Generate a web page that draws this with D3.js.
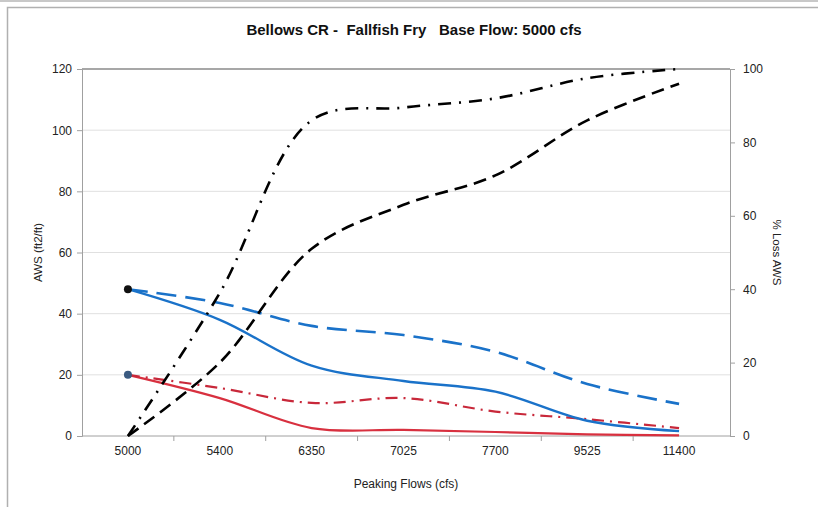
<!DOCTYPE html>
<html><head><meta charset="utf-8">
<script src="https://cdn.jsdelivr.net/npm/d3@7"></script>
<style>body{margin:0;background:#fff;} svg{display:block;font-family:"Liberation Sans",Arial,sans-serif;}</style>
</head><body>
<script>
const categories = ["5000","5400","6350","7025","7700","9525","11400"];
const leftTicks = [0,20,40,60,80,100,120];
const rightTicks = [0,20,40,60,80,100];
const blueSolid = [48, 38, 23, 18, 14.5, 5, 1.6];
const blueDashed = [48, 43.5, 36, 33, 27.5, 17, 10.5];
const redSolid = [20, 12.4, 2.6, 2, 1.3, 0.5, 0.2];
const redDashDot = [20, 15.7, 10.8, 12.4, 8, 5.5, 2.6];
const blackDashed = [0, 20, 51, 63, 71, 86, 96];
const blackDashDot = [0, 39, 86, 89.5, 92, 97.5, 100];

const W = 818, H = 507;
const m = {l:82, r:88, t:69, b:71};
const svg = d3.select("body").append("svg").attr("width", W).attr("height", H);

// frame
svg.append("line").attr("x1",0).attr("x2",W).attr("y1",1).attr("y2",1).attr("stroke","#c8c8c8").attr("stroke-width",2);
svg.append("path").attr("d",`M7.5,${H}V7.5H${W}`).attr("fill","none").attr("stroke","#b0b0b0").attr("stroke-width",1.5);

const x = d3.scaleBand().domain(categories).range([m.l, W-m.r-5]);
const xc = c => x(c) + x.bandwidth()/2;
const yL = d3.scaleLinear().domain([0,120]).range([H-m.b, m.t]);
const yR = d3.scaleLinear().domain([0,100]).range([H-m.b, m.t]);

// gridlines
svg.append("g").selectAll("line").data(leftTicks.filter(d=>d>0 && d<120)).join("line")
  .attr("x1", m.l).attr("x2", W-m.r).attr("y1", d=>yL(d)).attr("y2", d=>yL(d))
  .attr("stroke","#e0e0e0").attr("stroke-width",1);
svg.append("line").attr("x1",m.l).attr("x2",W-m.r).attr("y1",yL(120)).attr("y2",yL(120)).attr("stroke","#8a8a8a").attr("stroke-width",1.5);

// axes
const axL = svg.append("g").attr("transform",`translate(${m.l},0)`)
  .call(d3.axisLeft(yL).tickValues(leftTicks).tickSize(5).tickPadding(5));
const axR = svg.append("g").attr("transform",`translate(${W-m.r},0)`)
  .call(d3.axisRight(yR).tickValues(rightTicks).tickSize(5).tickPadding(8));
const axB = svg.append("g").attr("transform",`translate(0,${H-m.b})`)
  .call(d3.axisBottom(x).tickSize(0).tickPadding(10));
axB.select(".domain").attr("d", `M${m.l},0H${W-m.r}`);
[axL, axR, axB].forEach(a => {
  a.select(".domain").attr("stroke","#a0a0a0");
  a.selectAll(".tick line").attr("stroke","#a0a0a0");
  a.selectAll("text").attr("font-size",12).attr("fill","#222");
});
// category boundary ticks
svg.append("g").selectAll("line").data(categories.slice(1)).join("line")
  .attr("x1", d=>x(d)).attr("x2", d=>x(d)).attr("y1", H-m.b).attr("y2", H-m.b+5)
  .attr("stroke","#a0a0a0");

// titles
svg.append("text").attr("x", 414).attr("y", 35).attr("text-anchor","middle")
  .attr("font-size",15).attr("font-weight","bold").attr("fill","#111")
  .attr("xml:space","preserve")
  .text("Bellows CR -  Fallfish Fry   Base Flow: 5000 cfs");
svg.append("text").attr("x", 406).attr("y", 488).attr("text-anchor","middle")
  .attr("font-size",12).attr("fill","#222").text("Peaking Flows (cfs)");
svg.append("text").attr("transform",`translate(42,${(m.t+H-m.b)/2}) rotate(-90)`)
  .attr("text-anchor","middle").attr("font-size",11.5).attr("fill","#222").text("AWS (ft2/ft)");
svg.append("text").attr("transform",`translate(773,${(m.t+H-m.b)/2}) rotate(90)`)
  .attr("text-anchor","middle").attr("font-size",11.5).attr("fill","#222").text("% Loss AWS");

const curve = d3.curveCatmullRom.alpha(0.5);
function draw(vals, ys, color, dash, w) {
  const line = d3.line().x((d,i)=>xc(categories[i])).y(d=>ys(d)).curve(curve);
  svg.append("path").datum(vals).attr("d", line).attr("fill","none")
    .attr("stroke", color).attr("stroke-width", w).attr("stroke-dasharray", dash);
}
draw(redSolid, yL, "#d8303f", null, 2.2);
draw(redDashDot, yL, "#c8283a", "12,6,2,6", 2.2);
draw(blueSolid, yL, "#1a72c9", null, 2.4);
draw(blueDashed, yL, "#1a72c9", "20,9", 2.6);
draw(blackDashed, yR, "#000", "13,7", 2.6);
draw(blackDashDot, yR, "#000", "13,8,2,8", 2.6);

// start markers
svg.append("circle").attr("cx", xc(categories[0])).attr("cy", yL(blueSolid[0])).attr("r",4).attr("fill","#111");
svg.append("circle").attr("cx", xc(categories[0])).attr("cy", yL(redSolid[0])).attr("r",4).attr("fill","#3a5a80");
</script>
</body></html>
